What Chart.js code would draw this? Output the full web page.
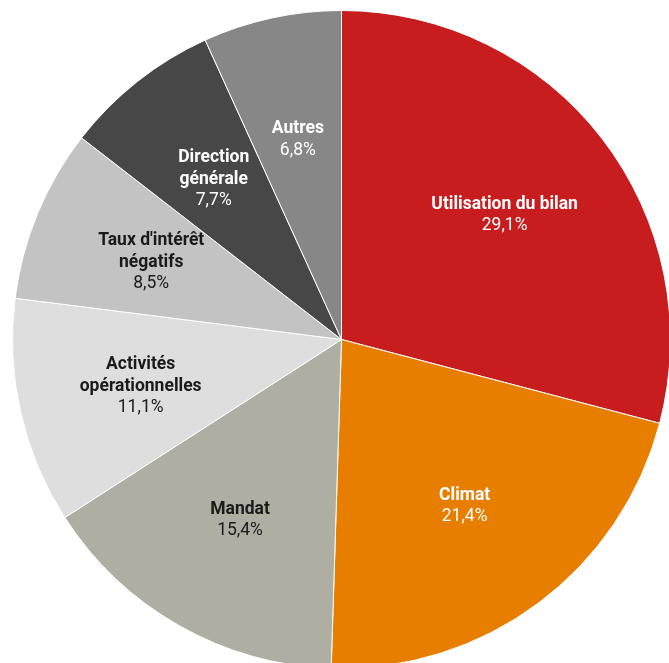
<!DOCTYPE html>
<html>
<head>
<meta charset="utf-8">
<script src="https://cdn.jsdelivr.net/npm/chart.js@4"></script>
<style>
  html, body { margin: 0; padding: 0; background: #fff; overflow: hidden; width: 669px; height: 663px; }
  #wrap { position: absolute; left: 0; top: 0; width: 682px; height: 678px; }
</style>
</head>
<body>
<div id="wrap"><canvas id="c"></canvas></div>
<script>
const categories = [
  ['Utilisation du bilan'],
  ['Climat'],
  ['Mandat'],
  ['Activités', 'opérationnelles'],
  ["Taux d'intérêt", 'négatifs'],
  ['Direction', 'générale'],
  ['Autres']
];
const values = [29.1, 21.4, 15.4, 11.1, 8.5, 7.7, 6.8];
const sliceColors = ['#C81D1E', '#E87E00', '#AEAEA3', '#DEDEDE', '#C3C3C3', '#474747', '#878787'];
const labelColors = ['#ffffff', '#ffffff', '#1a1a1a', '#1a1a1a', '#1a1a1a', '#ffffff', '#ffffff'];

const labelPlugin = {
  id: 'sliceLabels',
  afterDatasetsDraw(chart) {
    const ctx = chart.ctx;
    const meta = chart.getDatasetMeta(0);
    const lineH = 21.5;
    meta.data.forEach((arc, i) => {
      const p = arc.getProps(['x', 'y', 'startAngle', 'endAngle', 'outerRadius'], true);
      const mid = (p.startAngle + p.endAngle) / 2;
      const r = p.outerRadius * 0.626;
      const cx = p.x + Math.cos(mid) * r;
      const cy = p.y + Math.sin(mid) * r + 1.5;
      const lines = categories[i].map(t => ({ t, bold: true }));
      lines.push({ t: values[i].toFixed(1).replace('.', ',') + '%', bold: false });
      const n = lines.length;
      ctx.save();
      ctx.fillStyle = labelColors[i];
      ctx.textAlign = 'center';
      ctx.textBaseline = 'middle';
      lines.forEach((ln, k) => {
        ctx.font = (ln.bold ? 'bold ' : '') + '17.5px Roboto';
        ctx.fillText(ln.t, cx, cy + (k - (n - 1) / 2) * lineH);
      });
      ctx.restore();
    });
  }
};

new Chart(document.getElementById('c'), {
  type: 'pie',
  data: {
    labels: categories.map(c => c.join(' ')),
    datasets: [{
      data: values,
      backgroundColor: sliceColors,
      borderColor: '#ffffff',
      borderWidth: 1
    }]
  },
  options: {
    responsive: true,
    maintainAspectRatio: false,
    animation: false,
    layout: { padding: { left: 12, right: 11, top: 10, bottom: 9 } },
    plugins: { legend: { display: false }, tooltip: { enabled: false } }
  },
  plugins: [labelPlugin]
});
</script>
</body>
</html>
